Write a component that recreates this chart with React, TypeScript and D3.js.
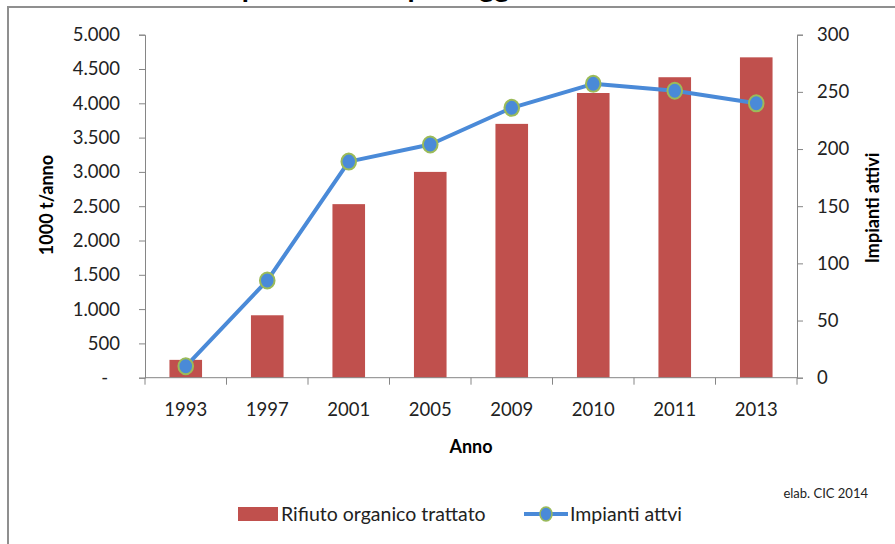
import { useEffect, useRef } from "react";
import * as d3 from "d3";

// values
const years = ["1993", "1997", "2001", "2005", "2009", "2010", "2011", "2013"];
const rifiuto = [260, 910, 2530, 3000, 3700, 4150, 4380, 4670]; // 1000 t/anno
const impianti = [10, 85, 189, 204, 236, 257, 251, 240];
const leftTicks = [0, 500, 1000, 1500, 2000, 2500, 3000, 3500, 4000, 4500, 5000];
const rightTicks = [0, 50, 100, 150, 200, 250, 300];

const BAR_COLOR = "#C0504D";
const LINE_COLOR = "#4A8AD8";
const MARKER_STROKE = "#9BBB59";
const AXIS_COLOR = "#868686";
const FONT = "Lato, 'Open Sans', sans-serif";

export default function App() {
  const ref = useRef<HTMLDivElement>(null);

  useEffect(() => {
    if (!ref.current) return;
    const container = ref.current;
    container.innerHTML = "";

    const W = 895;
    const H = 544;
    const plot = { left: 145, right: 797, top: 34.7, bottom: 377.7 };

    const svg = d3
      .select(container)
      .append("svg")
      .attr("width", W)
      .attr("height", H)
      .style("position", "absolute")
      .style("left", "0px")
      .style("top", "0px")
      .style("background", "#fff")
      .attr("font-family", FONT);

    // title, cut off at the top edge as in the source image
    svg
      .append("text")
      .attr("x", 209)
      .attr("y", -3)
      .attr("font-size", 29)
      .attr("font-weight", "bold")
      .attr("fill", "#000")
      .text("Impianti di compostaggio in Italia");

    // chart frame
    svg
      .append("rect")
      .attr("x", 8)
      .attr("y", 7)
      .attr("width", W + 20)
      .attr("height", H + 20)
      .attr("fill", "none")
      .attr("stroke", "#8f8f8f")
      .attr("stroke-width", 2);

    // scales
    const x = d3
      .scaleBand<string>()
      .domain(years)
      .range([plot.left, plot.right])
      .padding(0);

    const yLeft = d3
      .scaleLinear()
      .domain([0, 5000])
      .range([plot.bottom, plot.top]);

    const yRight = d3
      .scaleLinear()
      .domain([0, 300])
      .range([plot.bottom, plot.top]);

    const itLocale = d3.formatLocale({
      decimal: ",",
      thousands: ".",
      grouping: [3],
      currency: ["", "€"],
    });
    const fmt = itLocale.format(",.0f");

    // bars
    const barW = x.bandwidth() * 0.4;
    svg
      .append("g")
      .selectAll("rect")
      .data(rifiuto)
      .join("rect")
      .attr("x", (_d, i) => (x(years[i]) as number) + (x.bandwidth() - barW) / 2)
      .attr("y", (d) => yLeft(d))
      .attr("width", barW)
      .attr("height", (d) => yLeft(0) - yLeft(d))
      .attr("fill", BAR_COLOR);

    // left axis
    const gl = svg
      .append("g")
      .attr("transform", `translate(${plot.left},0)`)
      .call(
        d3
          .axisLeft(yLeft)
          .tickValues(leftTicks)
          .tickSize(6)
          .tickPadding(19)
          .tickFormat((d) => (+d === 0 ? "-" : fmt(+d)))
      );
    gl.select(".domain").attr("stroke", AXIS_COLOR);
    gl.selectAll(".tick line").attr("stroke", AXIS_COLOR);
    gl.selectAll(".tick text")
      .attr("font-size", 18.5)
      .attr("font-family", FONT)
      .attr("fill", "#222");
    gl.selectAll<SVGTextElement, number>(".tick text")
      .filter((d) => d === 0)
      .attr("dx", -12);

    // right axis
    const gr = svg
      .append("g")
      .attr("transform", `translate(${plot.right},0)`)
      .call(d3.axisRight(yRight).tickValues(rightTicks).tickSize(6).tickPadding(14));
    gr.select(".domain").attr("stroke", AXIS_COLOR);
    gr.selectAll(".tick line").attr("stroke", AXIS_COLOR);
    gr.selectAll(".tick text")
      .attr("font-size", 18.5)
      .attr("font-family", FONT)
      .attr("fill", "#222");

    // bottom axis with ticks at category boundaries
    const gb = svg
      .append("g")
      .attr("transform", `translate(0,${plot.bottom})`);
    gb.append("line")
      .attr("x1", plot.left)
      .attr("x2", plot.right)
      .attr("stroke", AXIS_COLOR);
    const bounds = years.map((y) => x(y) as number).concat([plot.right]);
    gb.selectAll("line.tk")
      .data(bounds)
      .join("line")
      .attr("class", "tk")
      .attr("x1", (d) => d)
      .attr("x2", (d) => d)
      .attr("y1", 0)
      .attr("y2", 7)
      .attr("stroke", AXIS_COLOR);
    gb.selectAll("text")
      .data(years)
      .join("text")
      .attr("x", (d) => (x(d) as number) + x.bandwidth() / 2)
      .attr("y", 38)
      .attr("text-anchor", "middle")
      .attr("font-size", 18.5)
      .attr("fill", "#222")
      .text((d) => d);

    // line + markers
    const line = d3
      .line<number>()
      .x((_d, i) => (x(years[i]) as number) + x.bandwidth() / 2)
      .y((d) => yRight(d));

    svg
      .append("path")
      .datum(impianti)
      .attr("fill", "none")
      .attr("stroke", LINE_COLOR)
      .attr("stroke-width", 4)
      .attr("stroke-linejoin", "round")
      .attr("d", line);

    svg
      .append("g")
      .selectAll("ellipse")
      .data(impianti)
      .join("ellipse")
      .attr("cx", (_d, i) => (x(years[i]) as number) + x.bandwidth() / 2)
      .attr("cy", (d) => yRight(d))
      .attr("rx", 7.3)
      .attr("ry", 8)
      .attr("fill", LINE_COLOR)
      .attr("stroke", MARKER_STROKE)
      .attr("stroke-width", 2);

    // axis titles
    svg
      .append("text")
      .attr("transform", `translate(53,205) rotate(-90)`)
      .attr("text-anchor", "middle")
      .attr("font-size", 18)
      .attr("font-weight", "bold")
      .text("1000 t/anno");

    svg
      .append("text")
      .attr("transform", `translate(879,208) rotate(-90)`)
      .attr("text-anchor", "middle")
      .attr("font-size", 18)
      .attr("font-weight", "bold")
      .text("Impianti attivi");

    svg
      .append("text")
      .attr("x", (plot.left + plot.right) / 2)
      .attr("y", 453)
      .attr("text-anchor", "middle")
      .attr("font-size", 18)
      .attr("font-weight", "bold")
      .text("Anno");

    // source note
    svg
      .append("text")
      .attr("x", 868)
      .attr("y", 498)
      .attr("text-anchor", "end")
      .attr("font-size", 13)
      .attr("fill", "#222")
      .text("elab. CIC 2014");

    // legend
    const lg = svg.append("g").attr("transform", "translate(0,514)");
    lg.append("rect")
      .attr("x", 238)
      .attr("y", -7)
      .attr("width", 40)
      .attr("height", 14)
      .attr("fill", BAR_COLOR);
    lg.append("text")
      .attr("x", 281)
      .attr("y", 7)
      .attr("font-size", 19.5)
      .attr("fill", "#222")
      .text("Rifiuto organico trattato");
    lg.append("line")
      .attr("x1", 524)
      .attr("x2", 568)
      .attr("stroke", LINE_COLOR)
      .attr("stroke-width", 4);
    lg.append("ellipse")
      .attr("cx", 546)
      .attr("rx", 6)
      .attr("ry", 7)
      .attr("fill", LINE_COLOR)
      .attr("stroke", MARKER_STROKE)
      .attr("stroke-width", 1.5);
    lg.append("text")
      .attr("x", 570)
      .attr("y", 7)
      .attr("font-size", 19.5)
      .attr("fill", "#222")
      .text("Impianti attvi");

    return () => {
      container.innerHTML = "";
    };
  }, []);

  return <div ref={ref} />;
}
